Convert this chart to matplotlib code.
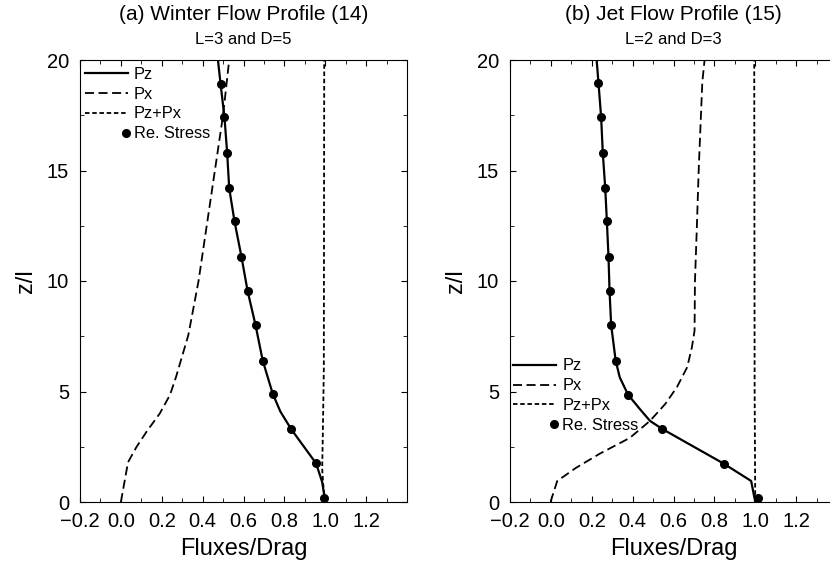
import numpy as np
import matplotlib
matplotlib.use('Agg')
import matplotlib.pyplot as plt
from matplotlib.legend_handler import HandlerLine2D
from matplotlib.ticker import MultipleLocator

plt.rcParams['font.family'] = ['Liberation Sans', 'DejaVu Sans']
plt.rcParams['axes.unicode_minus'] = True

# (a) winter flow profile
z_dot_a = [0.2, 1.75, 3.3, 4.9, 6.4, 8.0, 9.55, 11.1, 12.7, 14.2, 15.8, 17.4, 18.9]
re_a = [0.995, 0.955, 0.833, 0.743, 0.694, 0.659, 0.62, 0.59, 0.556, 0.53, 0.52, 0.507, 0.488]
z_pz_a = [0, 0.9, 1.75, 3.3, 4.1, 4.9, 6.4, 8.0, 9.55, 11.1, 12.7, 14.2, 15.8, 17.4, 18.9, 20]
pz_a = [1.0, 0.985, 0.955, 0.833, 0.78, 0.743, 0.694, 0.659, 0.62, 0.59, 0.556, 0.53, 0.52, 0.507, 0.488, 0.475]
z_px_a = [0, 1.8, 2.5, 3.2, 4.0, 4.84, 5.66, 7.55, 10, 12.5, 15, 17.5, 20]
px_a = [0.0, 0.035, 0.077, 0.127, 0.19, 0.24, 0.27, 0.33, 0.38, 0.42, 0.46, 0.5, 0.53]
z_sum_a = [0, 0.8, 1.5, 3, 6, 20]
sum_a = [1.0, 0.99, 0.985, 0.988, 0.993, 0.995]

# (b) jet flow profile
z_dot_b = [0.18, 1.74, 3.3, 4.85, 6.4, 8.0, 9.56, 11.1, 12.7, 14.2, 15.8, 17.4, 18.96]
re_b = [1.013, 0.845, 0.546, 0.378, 0.317, 0.295, 0.287, 0.282, 0.274, 0.266, 0.254, 0.246, 0.233]
z_pz_b = [0, 0.95, 1.74, 3.3, 3.67, 4.2, 4.85, 5.64, 6.4, 8.0, 9.56, 11.1, 12.7, 14.2, 15.8, 17.4, 18.96, 20]
pz_b = [1.0, 0.98, 0.845, 0.546, 0.485, 0.436, 0.378, 0.337, 0.317, 0.295, 0.287, 0.282, 0.274, 0.266, 0.254, 0.246, 0.233, 0.224]
z_px_b = [0, 0.05, 0.95, 1.54, 2.18, 2.9, 3.67, 4.44, 5.2, 6.1, 7.0, 7.75, 10, 12.1, 15.2, 19, 20]
px_b = [0.0, 0.0, 0.031, 0.122, 0.238, 0.386, 0.485, 0.56, 0.617, 0.667, 0.69, 0.703, 0.705, 0.713, 0.724, 0.741, 0.752]
z_sum_b = [0, 5, 20]
sum_b = [1.0, 0.997, 0.995]

titles = ['(a) Winter Flow Profile (14)', '(b) Jet Flow Profile (15)']
subtitles = ['L=3 and D=5', 'L=2 and D=3']
xticks = [-0.2, 0.0, 0.2, 0.4, 0.6, 0.8, 1.0, 1.2]


class DotRight(HandlerLine2D):
    # put the legend dot at the right end of the handle
    def get_xdata(self, legend, xdescent, ydescent, width, height, fontsize):
        x = -xdescent + width - 0.1 * fontsize
        return [x - 1, x + 1], [x]


def draw_panel(ax, title, subtitle, z_pz, pz, z_px, px, z_sum, psum, z_dot, re, legend_at):
    l1, = ax.plot(pz, z_pz, color='black', lw=1.6, label='Pz')
    l2, = ax.plot(px, z_px, color='black', lw=1.3, ls=(0, (5, 2.5)), label='Px')
    l3, = ax.plot(psum, z_sum, color='black', lw=1.3, ls=(0, (2.5, 1.5)), label='Pz+Px')
    l4, = ax.plot(re, z_dot, 'o', color='black', ms=5.5, label='Re. Stress')

    ax.set_xlim(-0.2, 1.4)
    ax.set_ylim(0, 20)
    ax.set_xticks(xticks)
    ax.xaxis.set_minor_locator(MultipleLocator(0.1))
    ax.yaxis.set_major_locator(MultipleLocator(5))
    ax.yaxis.set_minor_locator(MultipleLocator(2.5))
    ax.tick_params(which='both', direction='in', top=True, right=True, labelsize=14.5)
    ax.tick_params(which='major', length=4)
    ax.tick_params(which='minor', length=3)
    ax.tick_params(axis='x', which='major', pad=7.5)
    ax.tick_params(axis='y', which='major', pad=8)
    ax.set_xlabel('Fluxes/Drag', fontsize=17, labelpad=5)
    ax.set_ylabel('z/l', fontsize=17, labelpad=7)

    ax.text(0.5, 1.102, title, transform=ax.transAxes, ha='center', va='center', fontsize=15)
    ax.text(0.5, 1.047, subtitle, transform=ax.transAxes, ha='center', va='center', fontsize=12)

    ax.legend(handles=[l1, l2, l3, l4], loc='upper left', bbox_to_anchor=legend_at,
              frameon=False, fontsize=11.8, handlelength=2.6, handletextpad=0.4,
              labelspacing=0.3, borderpad=0, borderaxespad=0,
              handler_map={l4: DotRight()})


fig = plt.figure(figsize=(8.3, 5.68), dpi=100)
ax1 = fig.add_axes([80 / 830, 1 - 502 / 568, 327 / 830, 442 / 568])
ax2 = fig.add_axes([510 / 830, 1 - 502 / 568, 327 / 830, 442 / 568])

draw_panel(ax1, titles[0], subtitles[0], z_pz_a, pz_a, z_px_a, px_a,
           z_sum_a, sum_a, z_dot_a, re_a, (0.015, 0.985))
draw_panel(ax2, titles[1], subtitles[1], z_pz_b, pz_b, z_px_b, px_b,
           z_sum_b, sum_b, z_dot_b, re_b, (0.01, 0.325))

fig.savefig('out.png', dpi=100)
